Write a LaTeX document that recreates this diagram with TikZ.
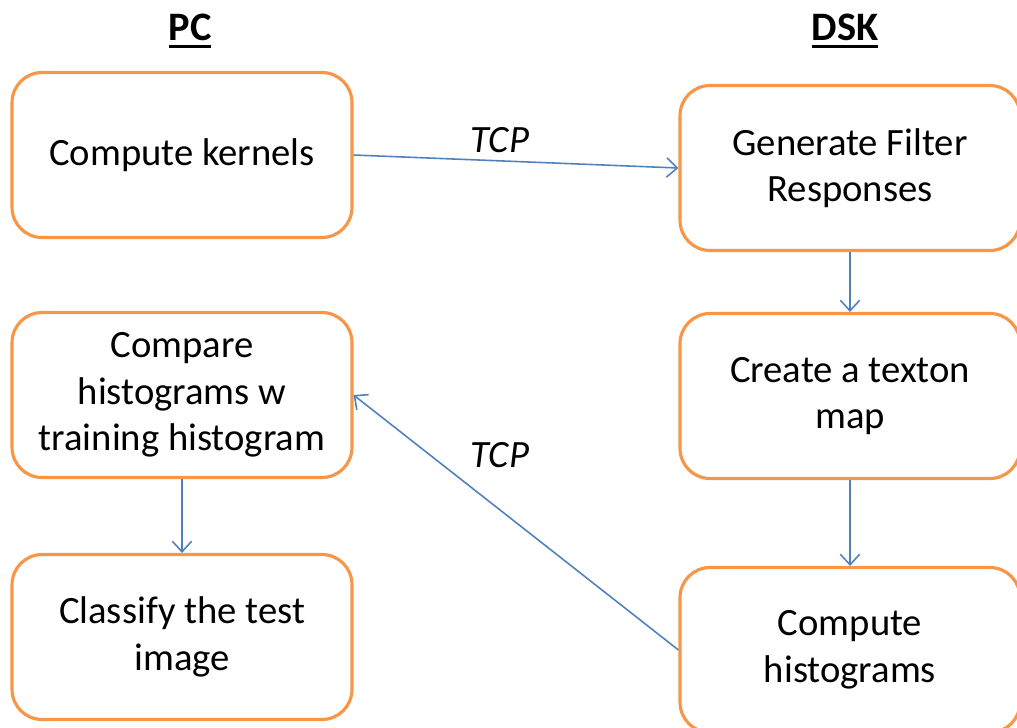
\documentclass[tikz,border=0pt]{standalone}
\usepackage{fontspec}
\setmainfont{Carlito}
\usepackage{tikz}
\usetikzlibrary{arrows.meta,shapes.misc}
\definecolor{boxorange}{RGB}{247,150,70}
\definecolor{linkblue}{RGB}{79,129,189}
% heavier underline for the column titles
\newcommand\thickul[1]{\setbox0\hbox{#1}\rlap{\rule[-4.5pt]{\wd0}{1.7pt}}\box0}
\tikzstyle{block}=[draw=boxorange,line width=1.8pt,rounded corners=0.6cm,fill=white,
  minimum width=6.8cm,minimum height=3.3cm,align=center,font=\fontsize{22}{26.5}\selectfont]
\tikzstyle{link}=[draw=linkblue,line width=0.9pt,-{Straight Barb[length=6pt,width=11pt]}]
\tikzstyle{head}=[font=\fontsize{23}{27}\selectfont\bfseries]
\tikzstyle{proto}=[font=\fontsize{22}{26.5}\selectfont\itshape]

\begin{document}
\begin{tikzpicture}[x=0.02cm,y=-0.02cm]
\useasboundingbox (0,0) rectangle (1017,727);
\clip (0,0) rectangle (1017,727);
% column titles
\node[head](pc) at (190,31){\thickul{PC}};
\node[head](dsk) at (845,31){\thickul{DSK}};
% PC side
\node[block](kern) at (182,155){Compute kernels};
\node[block](cmp) at (182,395){Compare\\histograms w\\training histogram};
\node[block](cls) at (182,637){Classify the test\\image};
% DSK side
\node[block](filt) at (850,168){Generate Filter\\Responses};
\node[block](tex) at (850,396){Create a texton\\map};
\node[block](hist) at (850,650){Compute\\histograms};
% links
\draw[link] (kern.east) -- (filt.west);
\draw[link] (filt.south) -- (tex.north);
\draw[link] (tex.south) -- (hist.north);
\draw[link] (hist.west) -- (cmp.east);
\draw[link] (cmp.south) -- (cls.north);
\node[proto](tcpa) at (500,140){TCP};
\node[proto](tcpb) at (500,455){TCP};
\end{tikzpicture}
\end{document}
